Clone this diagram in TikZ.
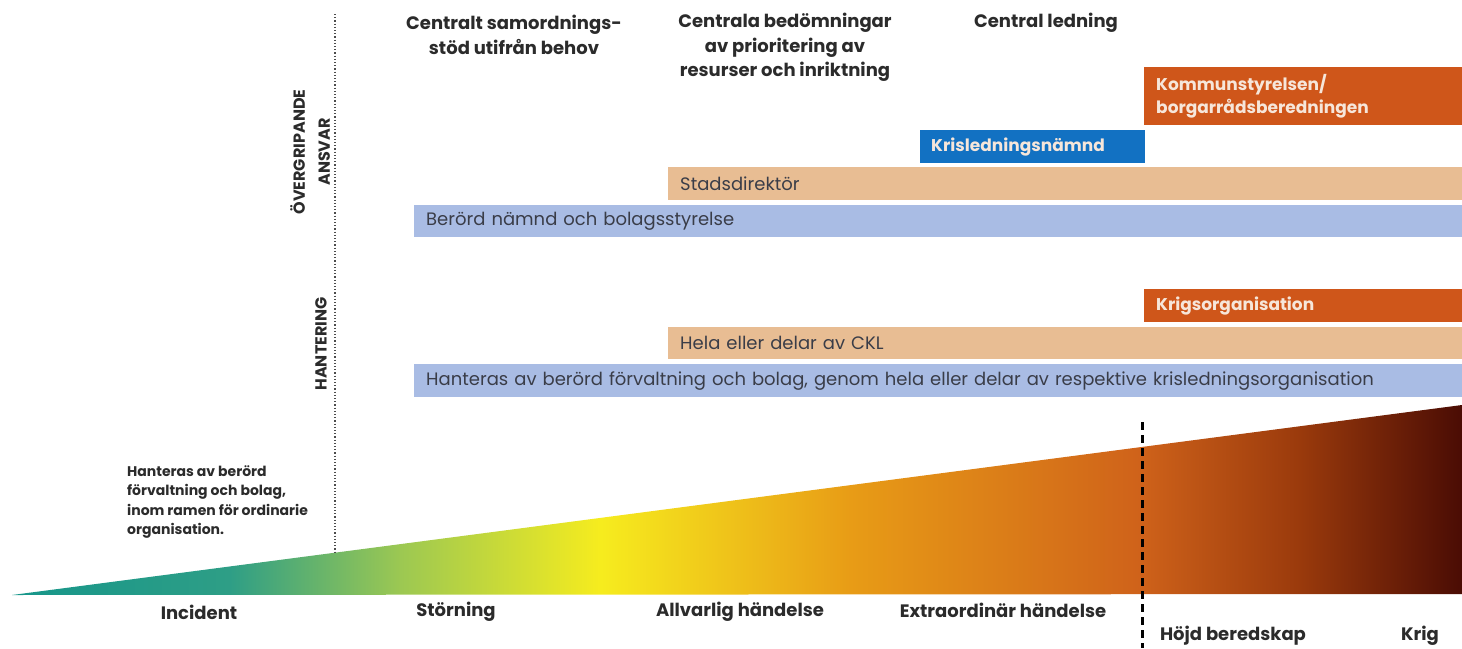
\documentclass[tikz,border=0pt]{standalone}
\usepackage{fontspec}
\setmainfont{Poppins}
\usetikzlibrary{positioning}
\definecolor{barblue}{HTML}{A9BCE4}
\definecolor{barpeach}{HTML}{E8BD93}
\definecolor{barorange}{HTML}{CF561A}
\definecolor{barnavy}{HTML}{1271C2}
\definecolor{inktext}{HTML}{2B2B2B}
\definecolor{bartext}{HTML}{3A3D48}
\definecolor{lighttext}{HTML}{F6E6DA}
\definecolor{wteal}{HTML}{16968A}
\definecolor{wteallight}{HTML}{2E9E86}
\definecolor{wgreen}{HTML}{9CC852}
\definecolor{wyellow}{HTML}{F6EC1E}
\definecolor{worange}{HTML}{E89C16}
\definecolor{wrust}{HTML}{CF621A}
\definecolor{wbrown}{HTML}{9A3A0C}
\definecolor{wdark}{HTML}{4A0C04}
\pgfdeclarehorizontalshading{wedgeshade}{100bp}{color(0bp)=(wteal); color(25bp)=(wteal);
  color(32.5bp)=(wteallight); color(38.4bp)=(wgreen); color(45.3bp)=(wyellow);
  color(53.9bp)=(worange); color(63.9bp)=(wrust); color(69.4bp)=(wbrown);
  color(75bp)=(wdark); color(100bp)=(wdark)}

\begin{document}
\begin{tikzpicture}[x=1pt,y=-1pt,
    bar node/.style={rectangle,anchor=north west,inner xsep=12pt,inner ysep=0pt,align=left,
      text=bartext,font=\fontsize{18}{20}\selectfont},
    dark bar/.style={bar node,text=lighttext,font=\bfseries\fontsize{17}{23}\selectfont},
    head node/.style={align=center,text=inktext,font=\bfseries\fontsize{18}{24.5}\selectfont},
    side node/.style={rotate=90,align=center,text=inktext,font=\bfseries\fontsize{16}{25}\selectfont},
    scale node/.style={text=inktext,font=\bfseries\fontsize{18}{20}\selectfont},
    note node/.style={anchor=north west,align=left,inner sep=0pt,text=inktext,
      font=\bfseries\fontsize{14}{19.5}\selectfont}]
  \useasboundingbox (0,0) rectangle (1462,648);

  % escalation wedge
  \shade[shading=wedgeshade] (12,595) -- (1462,405) -- (1462,594) -- cycle;
  \draw[dotted,line width=1.2pt,gray!60!black] (335,14) -- (335,553);
  \draw[line width=3pt,dash pattern=on 8pt off 5pt] (1142,422) -- (1142,648);

  % column headers
  \node[head node] (samord) at (514,35) {Centralt samordnings-\\stöd utifrån behov};
  \node[head node] (bedom) at (785,47.5) {Centrala bedömningar\\av prioritering av\\resurser och inriktning};
  \node[head node] (ledning) at (1046,23) {Central ledning};

  % side labels
  \node[side node] (ansvar) at (310,152) {ÖVERGRIPANDE\\ANSVAR};
  \node[side node] (hantering) at (321,344) {HANTERING};

  % overgripande ansvar
  \node[dark bar,fill=barorange,minimum width=318pt,minimum height=58pt,text width=294pt] (kommun) at (1144,67) {Kommunstyrelsen/\\borgarrådsberedningen};
  \node[dark bar,fill=barnavy,minimum width=225pt,minimum height=33pt,text width=203pt,inner xsep=11pt] (krisnamnd) at (920,130) {Krisledningsnämnd};
  \node[bar node,fill=barpeach,minimum width=794pt,minimum height=33pt,text width=770pt] (stadsdir) at (668,167) {Stadsdirektör};
  \node[bar node,fill=barblue,minimum width=1048pt,minimum height=32pt,text width=1024pt] (berord) at (414,205) {Berörd nämnd och bolagsstyrelse};

  % hantering
  \node[dark bar,fill=barorange,minimum width=318pt,minimum height=33pt,text width=294pt] (krigsorg) at (1144,289) {Krigsorganisation};
  \node[bar node,fill=barpeach,minimum width=794pt,minimum height=32pt,text width=770pt] (ckl) at (668,327) {Hela eller delar av CKL};
  \node[bar node,fill=barblue,minimum width=1048pt,minimum height=33pt,text width=1024pt] (forvalt) at (414,364) {Hanteras av berörd förvaltning och bolag, genom hela eller delar av respektive krisledningsorganisation};

  \node[note node] (ordinarie) at (127,465) {Hanteras av berörd\\förvaltning och bolag,\\inom ramen för ordinarie\\organisation.};

  % scale labels
  \node[scale node] (incident) at (199,612) {Incident};
  \node[scale node] (storning) at (456,612) {Störning};
  \node[scale node] (allvarlig) at (740,612) {Allvarlig händelse};
  \node[scale node] (extra) at (1003,610) {Extraordinär händelse};
  \node[scale node] (hojd) at (1233,636) {Höjd beredskap};
  \node[scale node] (krig) at (1420,636) {Krig};
\end{tikzpicture}
\end{document}
